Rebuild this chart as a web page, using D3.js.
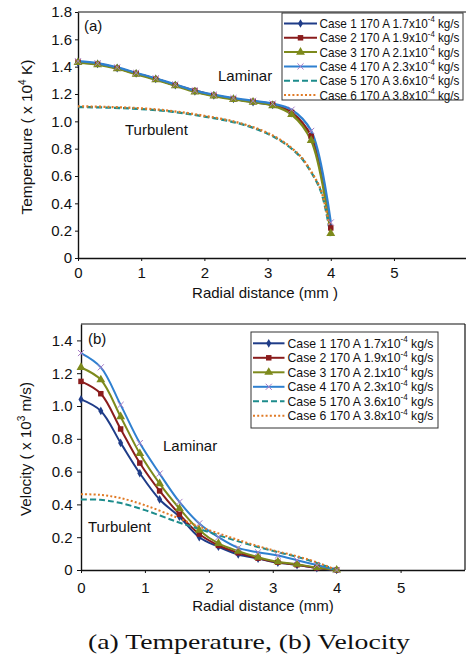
<!DOCTYPE html>
<html><head><meta charset="utf-8">
<script src="https://cdn.jsdelivr.net/npm/d3@7"></script>
<style>
body{margin:0;background:#fff}
</style>
</head><body>
<svg id="c" width="466" height="656" font-family="Liberation Sans, Arial, sans-serif"></svg>
<script>
// ---------------- DATA ----------------
const caseNames = ["Case 1","Case 2","Case 3","Case 4","Case 5","Case 6"];
const currents = ["170 A","170 A","170 A","170 A","170 A","170 A"];
const flowRates = ["1.7","1.9","2.1","2.3","3.6","3.8"];
const xTicks = [0,1,2,3,4,5];
const xTickLabels = ["0","1","2","3","4","5"];
const tempTicks = [0,0.2,0.4,0.6,0.8,1.0,1.2,1.4,1.6,1.8];
const tempTickLabels = ["0","0.2","0.4","0.6","0.8","1.0","1.2","1.4","1.6","1.8"];
const velTicks = [0,0.2,0.4,0.6,0.8,1.0,1.2,1.4];
const velTickLabels = ["0","0.2","0.4","0.6","0.8","1.0","1.2","1.4"];

// laminar radial positions (marker positions), mm
const rLam = [0,0.31,0.62,0.92,1.23,1.54,1.85,2.15,2.46,2.77,3.08,3.38,3.69,4.0];
// temperature (x10^4 K)
const tempCase1 = [1.43,1.42,1.39,1.35,1.31,1.265,1.22,1.19,1.165,1.14,1.12,1.06,0.88,0.22];
const tempCase2 = [1.435,1.42,1.39,1.35,1.31,1.265,1.225,1.19,1.165,1.145,1.125,1.065,0.89,0.22];
const tempCase3 = [1.43,1.415,1.385,1.345,1.305,1.26,1.215,1.185,1.16,1.14,1.115,1.05,0.86,0.18];
const tempCase4 = [1.44,1.425,1.395,1.355,1.315,1.27,1.225,1.195,1.17,1.15,1.13,1.085,0.93,0.26];
// turbulent radial positions, mm
const rTurbT = [0,0.5,1.0,1.5,2.0,2.5,2.9,3.2,3.5,3.7,3.85,4.0];
const tempCase5 = [1.105,1.10,1.09,1.07,1.035,0.99,0.93,0.86,0.75,0.62,0.48,0.16];
const tempCase6 = [1.11,1.105,1.095,1.075,1.04,0.995,0.935,0.865,0.755,0.625,0.49,0.18];
// velocity (x10^3 m/s)
const velCase1 = [1.04,0.97,0.775,0.59,0.43,0.325,0.20,0.142,0.095,0.07,0.045,0.03,0.012,0];
const velCase2 = [1.15,1.075,0.86,0.652,0.482,0.34,0.219,0.15,0.105,0.072,0.047,0.032,0.013,0];
const velCase3 = [1.235,1.16,0.935,0.71,0.527,0.375,0.243,0.162,0.115,0.078,0.05,0.035,0.015,0];
const velCase4 = [1.323,1.236,1.007,0.774,0.588,0.415,0.284,0.20,0.135,0.108,0.088,0.06,0.03,0];
const rTurbV = [0,0.3,0.6,1.0,1.5,1.85,2.33,2.75,3.06,3.37,3.68,4.0];
const velCase5 = [0.43,0.428,0.41,0.365,0.294,0.25,0.19,0.142,0.111,0.081,0.045,0];
const velCase6 = [0.462,0.458,0.44,0.395,0.32,0.265,0.20,0.148,0.115,0.085,0.048,0];

// ---------------- STYLES ----------------
const styles = [
  {color:"#1f3c88", sym:d3.symbolDiamond, size:22, fill:true},
  {color:"#8a1c1c", sym:d3.symbolSquare, size:30, fill:true},
  {color:"#7d8a1c", sym:d3.symbolTriangle, size:34, fill:true},
  {color:"#2f80d0", sym:d3.symbolX, size:26, fill:false, mcolor:"#a77cc6"},
  {color:"#1d8c8c", dash:"6,3"},
  {color:"#e07a25", dash:"2,2.2"}
];

const svg = d3.select("#c");

function supLabel(parent, x, y, parts, fs, opt) {
  opt = opt || {};
  const g = parent.append("g").attr("transform",`translate(${x},${y})${opt.rotate?` rotate(${opt.rotate})`:""}`);
  const sizes = [fs, fs*0.66, fs];
  const dys = [0, -fs*0.42, 0];
  const els = parts.map((p,i)=>g.append("text").attr("font-size",sizes[i]).attr("fill","#111")
    .attr("y",dys[i]).attr("xml:space","preserve").text(p));
  const widths = els.map(e=>e.node().getComputedTextLength());
  let total = d3.sum(widths);
  let k = 1;
  if (opt.width) { k = opt.width/total; total = opt.width; }
  let cx = opt.anchor==="middle" ? -total/2 : 0;
  els.forEach((e,i)=>{
    e.attr("x",cx);
    if (k!==1) e.attr("textLength",widths[i]*k).attr("lengthAdjust","spacingAndGlyphs");
    cx += widths[i]*k;
  });
  return g;
}

function drawPanel(cfg) {
  const g = svg.append("g");
  const x = d3.scaleLinear().domain([0,cfg.xMax]).range([cfg.left,cfg.right]);
  const y = d3.scaleLinear().domain([0,cfg.yMax]).range([cfg.bottom,cfg.top]);

  const ax = g.append("g").attr("transform",`translate(0,${cfg.bottom})`)
    .call(d3.axisBottom(x).tickValues(xTicks).tickFormat((d,i)=>xTickLabels[i]).tickSize(3).tickPadding(cfg.xPad).tickSizeOuter(0));
  const ay = g.append("g").attr("transform",`translate(${cfg.left},0)`)
    .call(d3.axisLeft(y).tickValues(cfg.yTicks).tickFormat((d,i)=>cfg.yTickLabels[i]).tickSize(cfg.yTick).tickPadding(cfg.yPad).tickSizeOuter(0));
  [ax,ay].forEach(a=>{
    a.attr("font-family",null);
    a.select(".domain").attr("stroke","#111").attr("stroke-width",1.4);
    a.selectAll(".tick line").attr("stroke","#111").attr("stroke-width",1);
    a.selectAll("text").attr("font-size",cfg.tickFs).attr("fill","#111");
  });
  g.append("line").attr("x1",cfg.left).attr("x2",cfg.frameRight).attr("y1",cfg.top).attr("y2",cfg.top)
    .attr("stroke","#111").attr("stroke-width",1.2);
  if (cfg.rightBorder) {
    g.append("line").attr("x1",cfg.frameRight).attr("x2",cfg.frameRight).attr("y1",cfg.top).attr("y2",cfg.bottom)
      .attr("stroke","#111").attr("stroke-width",1.2);
  }

  const line = d3.line().x(d=>x(d[0])).y(d=>y(d[1])).curve(d3.curveCatmullRom.alpha(0.5));
  cfg.series.forEach((s,i)=>{
    const st = styles[i];
    const pts = s.r.map((r,k)=>[r,s.v[k]]);
    g.append("path").datum(pts).attr("d",line).attr("fill","none")
      .attr("stroke",st.color).attr("stroke-width",cfg.lw)
      .attr("stroke-dasharray",st.dash||null);
  });
  cfg.series.forEach((s,i)=>{
    const st = styles[i];
    if (!st.sym) return;
    s.r.forEach((r,k)=>{
      const p = g.append("path").attr("d",d3.symbol(st.sym,st.size)())
        .attr("transform",`translate(${x(r)},${y(s.v[k])})`);
      if (st.fill) p.attr("fill",st.color).attr("stroke","none");
      else p.attr("fill","none").attr("stroke",st.mcolor).attr("stroke-width",1);
    });
  });

  const L = cfg.legend;
  g.append("rect").attr("x",L.x).attr("y",L.y).attr("width",L.w).attr("height",L.h)
    .attr("fill","#fff").attr("stroke","#333").attr("stroke-width",1);
  caseNames.forEach((nm,i)=>{
    const st = styles[i];
    const cy = L.row0 + i*L.step;
    g.append("line").attr("x1",L.s1).attr("x2",L.s2).attr("y1",cy).attr("y2",cy)
      .attr("stroke",st.color).attr("stroke-width",2).attr("stroke-dasharray",st.dash||null);
    if (st.sym) {
      const p = g.append("path").attr("d",d3.symbol(st.sym,st.size)())
        .attr("transform",`translate(${(L.s1+L.s2)/2},${cy})`);
      if (st.fill) p.attr("fill",st.color); else p.attr("fill","none").attr("stroke",st.mcolor).attr("stroke-width",1);
    }
    supLabel(g, L.tx, cy+4.5, [`${nm} ${currents[i]} ${flowRates[i]}x10`,"-4"," kg/s"], L.fs, {width:L.tw});
  });

  g.append("text").attr("x",cfg.tagX).attr("y",cfg.tagY).attr("font-size",15).attr("fill","#111").text(cfg.tag);
  g.append("text").attr("x",cfg.lamX).attr("y",cfg.lamY).attr("font-size",15).attr("fill","#111").text("Laminar");
  g.append("text").attr("x",cfg.turbX).attr("y",cfg.turbY).attr("font-size",15).attr("fill","#111").text("Turbulent");
  g.append("text").attr("x",cfg.xtX).attr("y",cfg.xtY).attr("text-anchor","middle").attr("font-size",15).attr("fill","#111").text(cfg.xTitle);
  supLabel(g, cfg.ytX, cfg.ytY, cfg.yTitle, 15.5, {rotate:-90, anchor:"middle", width:cfg.ytW});
}

drawPanel({
  xMax:6.14, left:78, right:466, frameRight:466, rightBorder:false,
  yMax:1.8, top:12, bottom:258, lw:2.3,
  yTicks:tempTicks, yTickLabels:tempTickLabels, xPad:6, yTick:3, yPad:3, tickFs:15,
  series:[
    {r:rLam,v:tempCase1},{r:rLam,v:tempCase2},{r:rLam,v:tempCase3},{r:rLam,v:tempCase4},
    {r:rTurbT,v:tempCase5},{r:rTurbT,v:tempCase6}
  ],
  legend:{x:282,y:13,w:181,h:87,row0:23.5,step:14.3,s1:284,s2:317,tx:319.5,tw:140,fs:13.5},
  tag:"(a)", tagX:84, tagY:31,
  lamX:218, lamY:81, turbX:125, turbY:135,
  xTitle:"Radial distance (mm )", xtX:265, xtY:298,
  yTitle:["Temperature ( x 10","4"," K)"], ytX:32, ytY:137, ytW:155
});

drawPanel({
  xMax:6, left:81, right:464.5, frameRight:465, rightBorder:true,
  yMax:1.5, top:324, bottom:570, lw:2,
  yTicks:velTicks, yTickLabels:velTickLabels, xPad:9, yTick:4, yPad:4.5, tickFs:15,
  series:[
    {r:rLam,v:velCase1},{r:rLam,v:velCase2},{r:rLam,v:velCase3},{r:rLam,v:velCase4},
    {r:rTurbV,v:velCase5},{r:rTurbV,v:velCase6}
  ],
  legend:{x:251,y:332,w:187,h:96,row0:343.3,step:14.5,s1:253,s2:284.5,tx:287.5,tw:146,fs:13.5},
  tag:"(b)", tagX:88, tagY:344,
  lamX:163, lamY:451, turbX:88, turbY:532,
  xTitle:"Radial distance (mm)", xtX:263, xtY:611,
  yTitle:["Velocity ( x 10","3"," m/s)"], ytX:31, ytY:449, ytW:134
});

svg.append("text").attr("x",249).attr("y",649).attr("text-anchor","middle")
  .attr("font-family","Liberation Serif, DejaVu Serif, serif").attr("font-size",21).attr("fill","#111")
  .attr("textLength",322).attr("lengthAdjust","spacingAndGlyphs")
  .text("(a) Temperature, (b) Velocity");
</script>
</body></html>
